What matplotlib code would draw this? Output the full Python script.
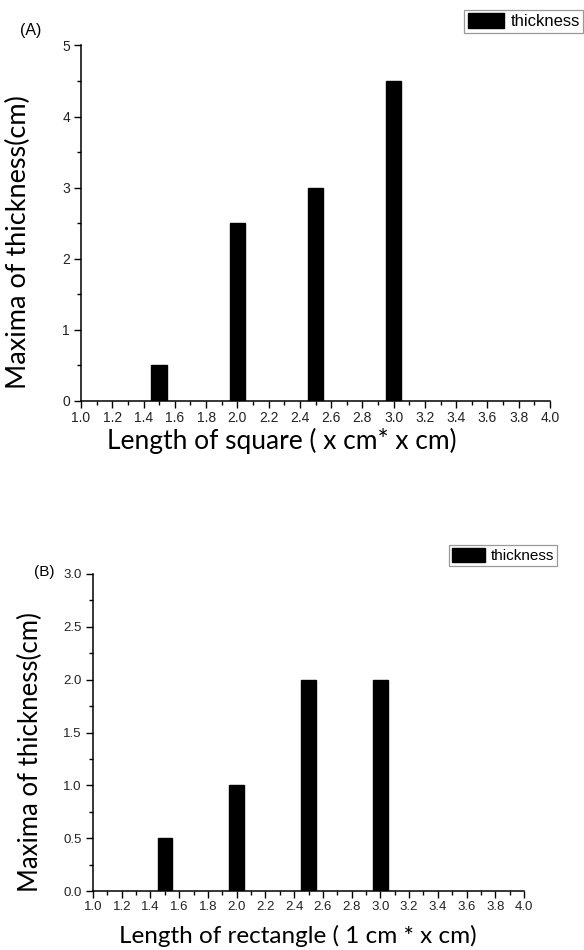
import matplotlib
matplotlib.use('Agg')
import matplotlib.pyplot as plt
from matplotlib.ticker import MultipleLocator, FormatStrFormatter

# panel A: square
sq_length = [1.5, 2.0, 2.5, 3.0]
sq_thickness = [0.5, 2.5, 3.0, 4.5]

# panel B: rectangle
rect_length = [1.5, 2.0, 2.5, 3.0]
rect_thickness = [0.5, 1.0, 2.0, 2.0]

W, H = 584, 950
TICK_FONT = 'Liberation Sans'
LABEL_FONT = 'Lato'

fig = plt.figure(figsize=(W / 100, H / 100), dpi=100)


def px(x, y):
    """pixel position (from top-left) -> figure fraction"""
    return x / W, 1 - y / H


def style_axes(ax, ymax, ymajor, yminor, tick_size, yfmt):
    ax.set_xlim(1.0, 4.0)
    ax.set_ylim(0, ymax)
    ax.spines['top'].set_visible(False)
    ax.spines['right'].set_visible(False)
    for s in ('left', 'bottom'):
        ax.spines[s].set_linewidth(1.1)
    ax.xaxis.set_major_locator(MultipleLocator(0.2))
    ax.xaxis.set_minor_locator(MultipleLocator(0.1))
    ax.xaxis.set_major_formatter(FormatStrFormatter('%.1f'))
    ax.yaxis.set_major_locator(MultipleLocator(ymajor))
    ax.yaxis.set_minor_locator(MultipleLocator(yminor))
    ax.yaxis.set_major_formatter(FormatStrFormatter(yfmt))
    ax.tick_params(which='major', direction='out', length=5, width=1.0, pad=3,
                   labelsize=tick_size, labelcolor='#222222', labelfontfamily=TICK_FONT)
    ax.tick_params(axis='x', which='major', pad=2)
    ax.tick_params(which='minor', direction='out', length=3, width=1.0)


def add_legend(ax, right, top, size):
    leg = ax.legend(loc='upper right', bbox_to_anchor=px(right, top), bbox_transform=fig.transFigure,
                    fancybox=False, edgecolor='#999999', framealpha=1, borderpad=0.2,
                    handlelength=2.2, handleheight=1.0, handletextpad=0.35, borderaxespad=0,
                    prop={'family': TICK_FONT, 'size': size})
    leg.get_frame().set_linewidth(0.9)


# (A)
axA = fig.add_axes([81 / W, 1 - 401 / H, 469 / W, 355.5 / H])
axA.bar(sq_length, sq_thickness, width=0.1, color='black', edgecolor='black', label='thickness')
style_axes(axA, 5, 1, 0.5, 10, '%d')
fig.text(*px(18, 242), 'Maxima of thickness(cm)', rotation=90, ha='center', va='center',
         fontfamily=LABEL_FONT, fontsize=19.5)
fig.text(*px(282, 441), 'Length of square ( x cm* x cm)', ha='center', va='center',
         fontfamily=LABEL_FONT, fontsize=19)
add_legend(axA, 583, 10, 12)
fig.text(*px(31, 30), '(A)', ha='center', va='center', fontfamily=TICK_FONT, fontsize=11.5)

# (B)
axB = fig.add_axes([93 / W, 1 - 891 / H, 431 / W, 317 / H])
axB.bar(rect_length, rect_thickness, width=0.1, color='black', edgecolor='black', label='thickness')
style_axes(axB, 3.0, 0.5, 0.25, 9.5, '%.1f')
fig.text(*px(30, 752), 'Maxima of thickness(cm)', rotation=90, ha='center', va='center',
         fontfamily=LABEL_FONT, fontsize=18.5)
fig.text(*px(298, 936), 'Length of rectangle ( 1 cm * x cm)', ha='center', va='center',
         fontfamily=LABEL_FONT, fontsize=17.5)
add_legend(axB, 557, 545, 11)
fig.text(*px(44, 572), '(B)', ha='center', va='center', fontfamily=TICK_FONT, fontsize=11)

fig.savefig('out.png', dpi=100, facecolor='white')
